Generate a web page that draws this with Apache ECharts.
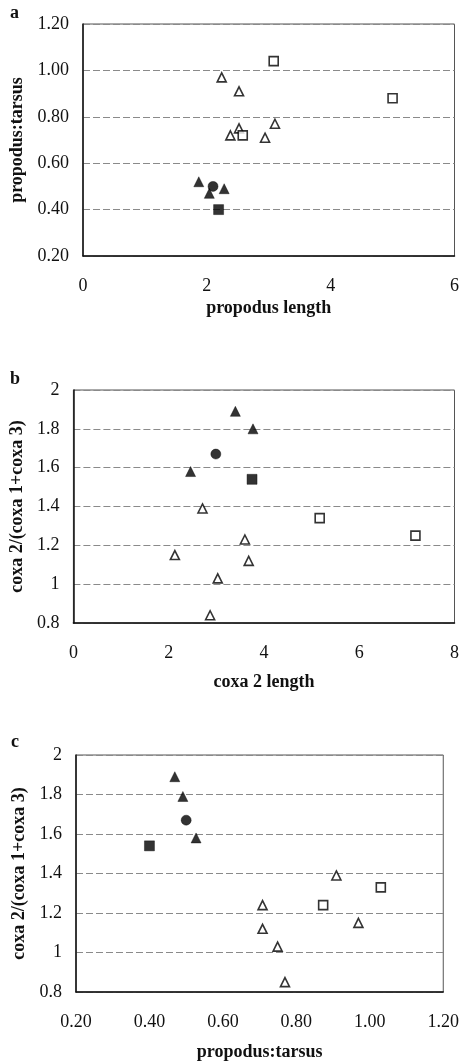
<!DOCTYPE html>
<html>
<head>
<meta charset="utf-8">
<script src="https://cdn.jsdelivr.net/npm/echarts@6/dist/echarts.min.js"></script>
<style>
  html, body { margin: 0; padding: 0; background: #fff; }
  #chart { width: 462px; height: 1063px; }
</style>
</head>
<body>
<div id="chart"></div>
<script>
// panel a: propodus length vs propodus:tarsus
const aOpenTri = [[2.24, 0.97], [2.52, 0.91], [2.38, 0.72], [2.52, 0.75], [2.94, 0.71], [3.10, 0.77]];
const aOpenSq = [[3.08, 1.04], [5.0, 0.88], [2.58, 0.72]];
const aFillTri = [[1.87, 0.52], [2.04, 0.47], [2.28, 0.49]];
const aFillCircle = [[2.10, 0.50]];
const aFillSq = [[2.19, 0.40]];

// panel b: coxa 2 length vs coxa 2/(coxa 1+coxa 3)
const bOpenTri = [[2.71, 1.39], [3.60, 1.23], [2.13, 1.15], [3.68, 1.12], [3.03, 1.03], [2.87, 0.84]];
const bOpenSq = [[5.17, 1.34], [7.18, 1.25]];
const bFillTri = [[3.40, 1.89], [3.77, 1.80], [2.46, 1.58]];
const bFillCircle = [[2.99, 1.67]];
const bFillSq = [[3.75, 1.54]];

// panel c: propodus:tarsus vs coxa 2/(coxa 1+coxa 3)
const cOpenTri = [[0.909, 1.39], [0.708, 1.24], [0.969, 1.15], [0.708, 1.12], [0.749, 1.03], [0.769, 0.85]];
const cOpenSq = [[1.03, 1.33], [0.873, 1.24]];
const cFillTri = [[0.469, 1.89], [0.491, 1.79], [0.527, 1.58]];
const cFillCircle = [[0.50, 1.67]];
const cFillSq = [[0.40, 1.54]];

const panelLetters = ["a", "b", "c"];
const xNames = ["propodus length", "coxa 2 length", "propodus:tarsus"];
const yNames = ["propodus:tarsus", "coxa 2/(coxa 1+coxa 3)", "coxa 2/(coxa 1+coxa 3)"];

const FONT = "Liberation Serif";
const INK = "#111";

const chart = echarts.init(document.getElementById("chart"));

const gridLine = {
  show: true,
  lineStyle: { color: "#8a8a8a", type: [7, 3], width: 1 },
};

const mkX = (idx, min, max, interval, gap, fmt) => ({
  gridIndex: idx,
  type: "value",
  min: min,
  max: max,
  interval: interval,
  name: xNames[idx],
  nameLocation: "middle",
  nameGap: gap,
  nameTextStyle: { fontFamily: FONT, fontWeight: "bold", fontSize: 18, color: INK },
  axisLine: { show: true, lineStyle: { color: INK, width: 1.5 } },
  axisTick: { show: false },
  splitLine: { show: false },
  axisLabel: { fontFamily: FONT, fontSize: 18, color: INK, margin: 21, formatter: fmt },
});

const mkY = (idx, min, max, gap, fmt) => ({
  gridIndex: idx,
  type: "value",
  min: min,
  max: max,
  interval: 0.2,
  name: yNames[idx],
  nameLocation: "middle",
  nameGap: gap,
  nameTextStyle: { fontFamily: FONT, fontWeight: "bold", fontSize: 18, color: INK },
  axisLine: { show: true, lineStyle: { color: INK, width: 1.5 } },
  axisTick: { show: false },
  splitLine: gridLine,
  axisLabel: { fontFamily: FONT, fontSize: 18, color: INK, margin: 14, formatter: fmt },
});

const fix2 = (v) => v.toFixed(2);
const plain = (v) => String(Math.round(v * 10) / 10);

const mkSeries = (idx, data, symbol, filled, size) => ({
  type: "scatter",
  xAxisIndex: idx,
  yAxisIndex: idx,
  symbol: symbol,
  symbolSize: size,
  data: data,
  itemStyle: filled
    ? { color: "#000", borderColor: "#000", borderWidth: 0.5 }
    : { color: "#fff", borderColor: "#000", borderWidth: 1.6 },
  z: filled ? 3 : 4,
});

const panelSeries = (idx, openTri, openSq, fillTri, fillCircle, fillSq) => [
  mkSeries(idx, openTri, "triangle", false, 9),
  mkSeries(idx, openSq, "rect", false, 9),
  mkSeries(idx, fillTri, "triangle", true, 10),
  mkSeries(idx, fillCircle, "circle", true, 10),
  mkSeries(idx, fillSq, "rect", true, 10),
];

const option = {
  animation: false,
  backgroundColor: "#fff",
  graphic: [
    { type: "text", left: 10, top: 4, style: { text: panelLetters[0], font: "bold 18px '" + FONT + "'", fill: INK } },
    { type: "text", left: 10, top: 370, style: { text: panelLetters[1], font: "bold 18px '" + FONT + "'", fill: INK } },
    { type: "text", left: 11, top: 733, style: { text: panelLetters[2], font: "bold 18px '" + FONT + "'", fill: INK } },
  ],
  grid: [
    { left: 83, right: 5, top: 24, height: 232, show: true, borderColor: "#555", borderWidth: 1 },
    { left: 73, right: 6, top: 390, height: 233, show: true, borderColor: "#555", borderWidth: 1 },
    { left: 76, right: 18, top: 755, height: 237, show: true, borderColor: "#555", borderWidth: 1 },
  ],
  xAxis: [
    mkX(0, 0, 6, 2, 43, plain),
    mkX(1, 0, 8, 2, 50, plain),
    mkX(2, 0.2, 1.2, 0.2, 51, fix2),
  ],
  yAxis: [
    mkY(0, 0.2, 1.2, 56, fix2),
    mkY(1, 0.8, 2, 46, plain),
    mkY(2, 0.8, 2, 44, plain),
  ],
  series: [
    ...panelSeries(0, aOpenTri, aOpenSq, aFillTri, aFillCircle, aFillSq),
    ...panelSeries(1, bOpenTri, bOpenSq, bFillTri, bFillCircle, bFillSq),
    ...panelSeries(2, cOpenTri, cOpenSq, cFillTri, cFillCircle, cFillSq),
  ],
};

chart.setOption(option);
window.addEventListener("resize", () => chart.resize());
</script>
</body>
</html>
